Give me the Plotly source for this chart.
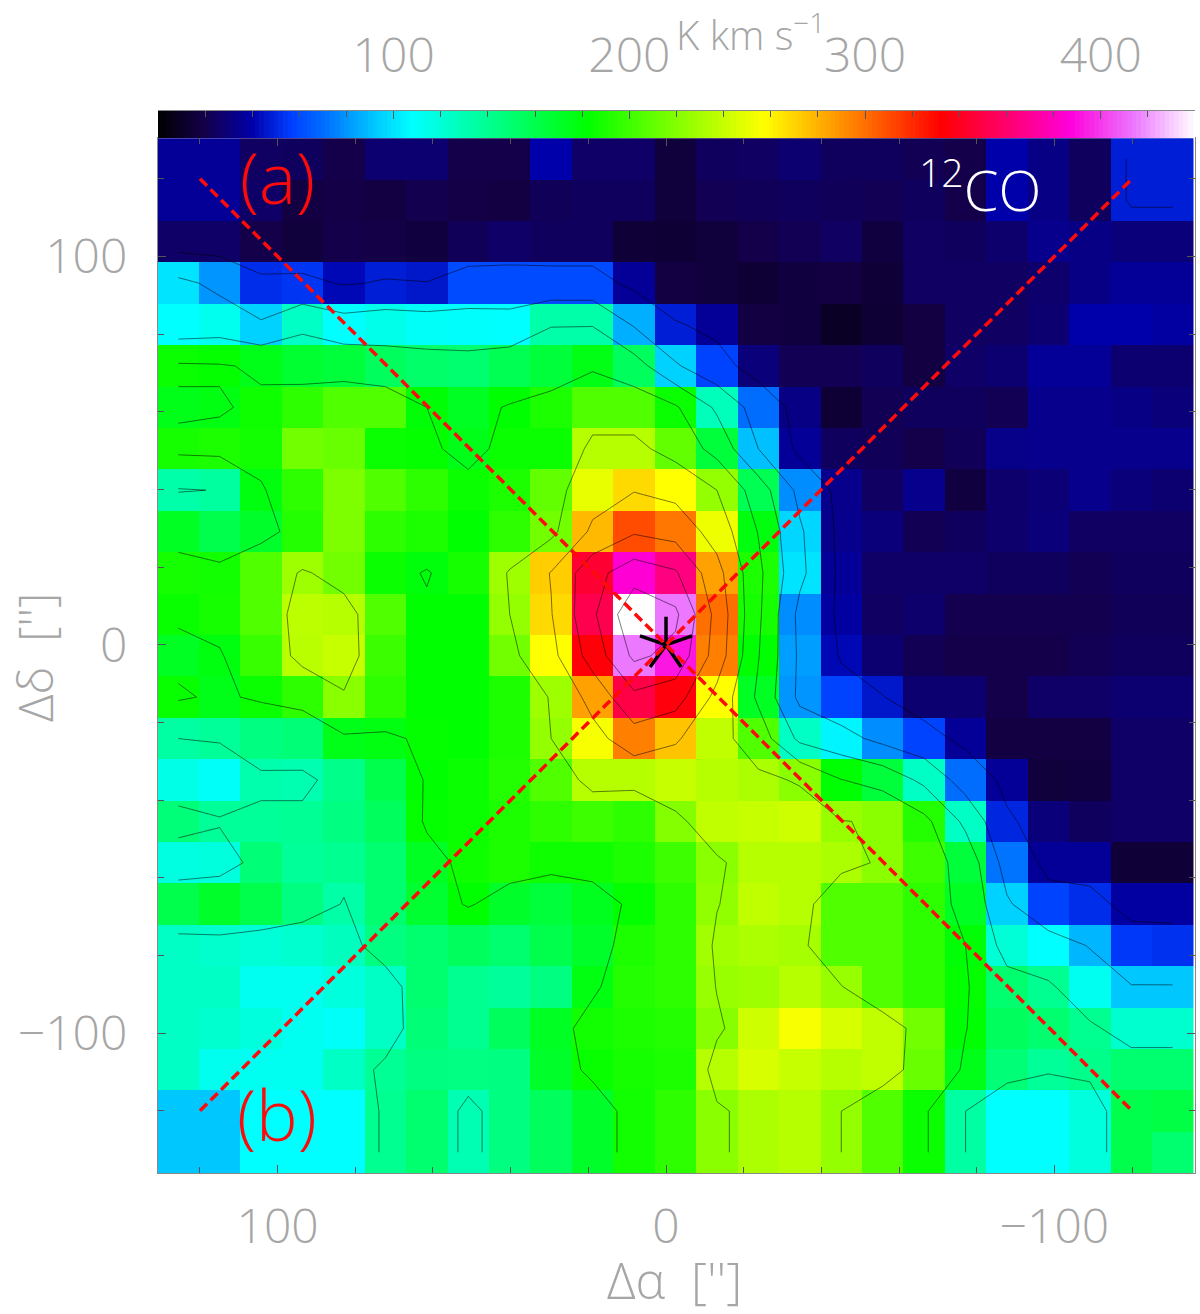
import plotly.graph_objects as go

# integrated intensity, top row first, left column first (K km/s)
intensity = [
    [36, 36, 25, 24, 20, 28, 28, 20, 20, 40, 26, 26, 16, 24, 25, 28, 24, 24, 22, 20, 40, 32, 24, 48, 48],
    [36, 36, 26, 18, 19, 18, 21, 19, 18, 23, 24, 24, 16, 22, 23, 24, 23, 22, 24, 20, 40, 32, 24, 48, 48],
    [26, 26, 20, 16, 20, 19, 17, 23, 26, 24, 24, 15, 14, 16, 20, 22, 25, 17, 25, 24, 27, 34, 32, 30, 30],
    [100, 80, 52, 54, 42, 48, 46, 60, 60, 60, 60, 36, 18, 16, 14, 17, 18, 15, 25, 25, 25, 27, 32, 36, 36],
    [108, 113, 95, 125, 108, 114, 110, 109, 108, 133, 133, 86, 48, 36, 18, 17, 10, 14, 18, 25, 25, 28, 40, 40, 38],
    [185, 183, 175, 168, 165, 155, 152, 150, 158, 165, 176, 155, 95, 58, 30, 22, 22, 24, 18, 26, 28, 36, 36, 28, 28],
    [175, 177, 186, 195, 205, 205, 180, 172, 182, 190, 205, 205, 185, 128, 70, 32, 14, 22, 24, 24, 22, 34, 34, 32, 30],
    [188, 190, 187, 215, 212, 185, 183, 175, 185, 185, 235, 235, 210, 165, 90, 36, 24, 23, 20, 23, 33, 34, 34, 34, 34],
    [133, 136, 178, 195, 218, 205, 195, 185, 190, 210, 250, 268, 257, 225, 158, 78, 34, 25, 34, 17, 27, 29, 34, 30, 28],
    [172, 160, 170, 192, 218, 195, 190, 182, 195, 215, 278, 310, 298, 252, 178, 96, 34, 30, 22, 24, 27, 30, 25, 25, 25],
    [188, 187, 205, 228, 215, 185, 179, 188, 228, 272, 345, 385, 365, 285, 190, 100, 36, 26, 26, 26, 24, 24, 22, 24, 24],
    [184, 188, 205, 237, 235, 205, 182, 182, 225, 268, 352, 440, 414, 300, 188, 78, 38, 25, 27, 21, 21, 21, 21, 23, 23],
    [172, 178, 198, 236, 240, 199, 182, 182, 215, 257, 334, 414, 392, 295, 182, 82, 42, 28, 22, 20, 20, 20, 22, 24, 24],
    [184, 175, 185, 195, 222, 195, 182, 182, 190, 228, 285, 350, 335, 257, 172, 80, 58, 46, 28, 28, 20, 26, 26, 28, 28],
    [135, 138, 145, 148, 175, 177, 183, 182, 190, 225, 255, 295, 275, 238, 205, 125, 105, 78, 58, 36, 18, 18, 18, 26, 26],
    [115, 110, 132, 131, 142, 160, 182, 185, 192, 205, 235, 235, 240, 235, 232, 222, 181, 165, 125, 70, 36, 16, 17, 26, 26],
    [147, 138, 138, 139, 145, 155, 183, 185, 190, 195, 200, 195, 220, 238, 240, 242, 226, 222, 192, 125, 50, 30, 24, 26, 26],
    [117, 118, 148, 138, 140, 150, 172, 186, 190, 186, 186, 190, 200, 222, 235, 235, 232, 222, 200, 165, 72, 36, 36, 15, 15],
    [160, 170, 160, 145, 134, 150, 168, 182, 170, 165, 173, 183, 195, 224, 238, 235, 205, 205, 195, 172, 95, 58, 52, 38, 38],
    [125, 123, 120, 122, 127, 145, 150, 155, 150, 160, 170, 190, 195, 229, 232, 230, 205, 205, 195, 180, 120, 108, 88, 55, 53],
    [125, 125, 112, 112, 118, 125, 150, 140, 137, 145, 177, 192, 195, 226, 228, 235, 226, 205, 195, 183, 150, 140, 112, 92, 92],
    [125, 122, 118, 112, 110, 125, 148, 140, 155, 172, 187, 190, 192, 221, 242, 255, 245, 238, 215, 181, 155, 150, 140, 122, 122],
    [125, 113, 112, 112, 125, 139, 145, 144, 145, 170, 184, 188, 190, 235, 245, 240, 235, 238, 212, 175, 148, 138, 142, 150, 150],
    [92, 92, 108, 108, 108, 140, 150, 130, 145, 155, 170, 187, 195, 222, 232, 235, 225, 205, 185, 135, 108, 108, 118, 160, 162],
    [92, 92, 108, 108, 108, 140, 150, 130, 145, 155, 170, 187, 195, 222, 232, 235, 225, 205, 185, 135, 108, 108, 118, 160, 150],
]

scale_values = [0, 20, 40, 56, 73, 92, 108, 145, 182, 219, 257, 295, 332, 365, 387, 414, 440]
scale_colors = [
    '#000000', '#14004a', '#0000aa', '#003cff', '#0078ff', '#00c8ff', '#00ffff', '#00ff80', '#00ff00',
    '#80ff00', '#ffff00', '#ff8000', '#ff0000', '#ff0080', '#ff00dc', '#eb78ff', '#ffffff',
]
colorbar_ramp = list(range(0, 441, 2))
colorbar_ticks = [100, 200, 300, 400]

cut_a_x = [120, -120]
cut_a_y = [120, -120]
cut_b_x = [120, -120]
cut_b_y = [-120, 120]

star_x = [0, 0, 0, -6.7, 0, -3.9, 0, 4.1, 0, 6.7]
star_y = [0, 7.2, 0, 2.3, 0, -5.7, 0, -5.7, 0, 2.3]

contour_start, contour_end, contour_step = 45, 405, 45

GREY = '#a6a6a6'
RED = '#ff0a0a'
FONT = 'Open Sans'
W, H = 1200, 1314
VMAX = scale_values[-1]

colorscale = [[v / VMAX, c] for v, c in zip(scale_values, scale_colors)]

axis_style = dict(
    ticks='inside', ticklen=8, tickcolor='#555555', tickwidth=1, automargin=False,
    showgrid=False, zeroline=False, showline=True, linecolor='#888888', linewidth=1,
    tickfont=dict(family=FONT, size=48, color=GREY, weight=300),
    minor=dict(dtick=20, tick0=0, ticks='inside', ticklen=6, tickcolor='#555555', showgrid=False),
    exponentformat='none',
)

fig = go.Figure()
fig.add_trace(go.Heatmap(
    z=intensity, x0=125.6, dx=-10.67, y0=125.1, dy=-10.66,
    colorscale=colorscale, zmin=0, zmax=VMAX, showscale=False,
))
fig.add_trace(go.Contour(
    z=intensity, x0=125.6, dx=-10.67, y0=125.1, dy=-10.66,
    autocontour=False,
    contours=dict(coloring='none', start=contour_start, end=contour_end, size=contour_step),
    line=dict(color='rgba(0,0,0,0.65)', width=0.8, smoothing=0),
    showscale=False,
))
fig.add_trace(go.Scatter(x=star_x, y=star_y, mode='lines', line=dict(color='black', width=3.5)))
for cut_x, cut_y in [(cut_a_x, cut_a_y), (cut_b_x, cut_b_y)]:
    fig.add_trace(go.Scatter(
        x=cut_x, y=cut_y, mode='lines',
        line=dict(color=RED, width=3.5, dash='10px,5px'),
    ))
fig.add_trace(go.Heatmap(
    z=[colorbar_ramp], x=colorbar_ramp, y=[0], xaxis='x2', yaxis='y2',
    colorscale=colorscale, zmin=0, zmax=VMAX, showscale=False,
))


def note(text, px, py, size, color=GREY, **kw):
    return dict(
        text=text, x=px / W, y=1 - py / H, xref='paper', yref='paper', showarrow=False,
        xanchor='center', yanchor='middle',
        font=dict(family=FONT, size=size, color=color, weight=300), **kw
    )


fig.update_layout(
    width=W, height=H, margin=dict(l=0, r=0, t=0, b=0),
    paper_bgcolor='white', plot_bgcolor='white', showlegend=False,
    xaxis=dict(
        domain=[158 / W, 1195 / W], range=[130.8, -136.2], mirror='ticks', dtick=100, tick0=0,
        ticklabelstandoff=11, **axis_style
    ),
    yaxis=dict(
        domain=[1 - 1173 / H, 1 - 138 / H], range=[-136, 130.5], mirror='ticks', dtick=100, tick0=0,
        ticklabelstandoff=20, **axis_style
    ),
    xaxis2=dict(
        domain=[158 / W, 1195 / W], range=[0, VMAX], anchor='y2', side='top',
        tickmode='array', tickvals=colorbar_ticks,
        ticklabelstandoff=19, **axis_style
    ),
    yaxis2=dict(
        domain=[1 - 138 / H, 1 - 111 / H], anchor='x2', showticklabels=False, ticks='',
        showgrid=False, zeroline=False,
    ),
    annotations=[
        note("Δα  ['']", 674, 1280, 50),
        note("Δδ  ['']", 34, 658, 48, textangle=-90),
        note('K km s<sup>−1</sup>', 750, 32, 40),
        note('(a)', 277, 177, 70, color=RED),
        note('(b)', 277, 1114, 70, color=RED),
        note('<sup>12</sup>CO', 980, 186, 56, color='white'),
    ],
)

# the page's default body margin would push the figure 8px off
fig.write_html(
    "out.html",
    config={'displayModeBar': False},
    post_script="document.body.style.margin = '0';",
)
